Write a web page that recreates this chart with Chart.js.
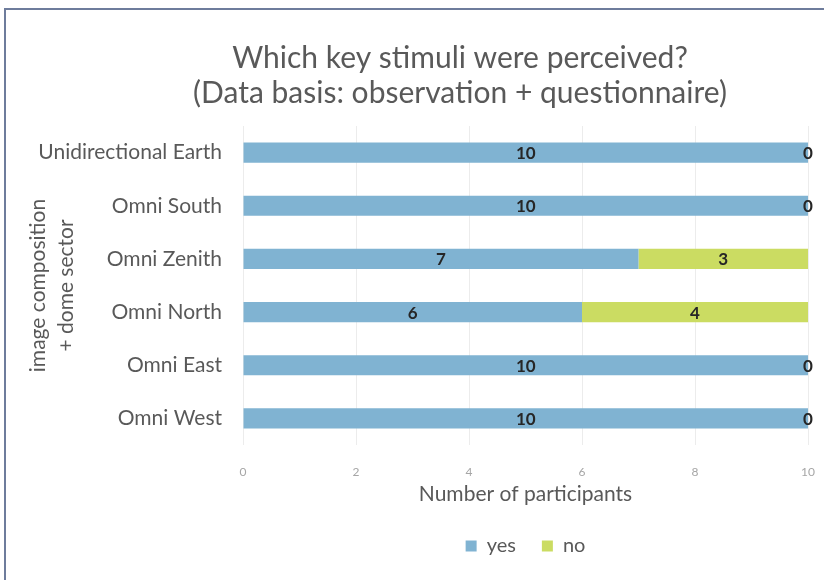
<!DOCTYPE html>
<html>
<head>
<meta charset="utf-8">
<script src="https://cdn.jsdelivr.net/npm/chart.js@4.4.1/dist/chart.umd.min.js"></script>
<style>
  html, body { margin: 0; padding: 0; background: #ffffff; overflow: hidden; }
  #wrap { position: relative; width: 824px; height: 580px; }
  #frame {
    position: absolute; left: 4px; top: 8px; right: -10px; bottom: -10px;
    border-left: 2px solid #6e7c9c; border-top: 2px solid #6e7c9c;
    pointer-events: none;
  }
</style>
</head>
<body>
<div id="wrap">
  <canvas id="chart" width="824" height="580"></canvas>
  <div id="frame"></div>
</div>
<script>
// Sectors shown in the dome, top to bottom
const categories = [
  'Unidirectional Earth',
  'Omni South',
  'Omni Zenith',
  'Omni North',
  'Omni East',
  'Omni West'
];
// Participants who perceived / did not perceive the key stimuli
const yesValues = [10, 10, 7, 6, 10, 10];
const noValues  = [0, 0, 3, 4, 0, 0];
const seriesNames = ['yes', 'no'];
const xTicks = [0, 2, 4, 6, 8, 10];
const titleLines = ['Which key stimuli were perceived?', '(Data basis: observation + questionnaire)'];

const FONT = 'Lato, "Open Sans", sans-serif';
const TEXT = '#595959';

// Value labels centred on each bar segment
const segmentLabels = {
  id: 'segmentLabels',
  afterDatasetsDraw(chart) {
    const ctx = chart.ctx;
    ctx.save();
    ctx.font = 'bold 17px ' + FONT;
    ctx.fillStyle = '#262626';
    ctx.textAlign = 'center';
    ctx.textBaseline = 'middle';
    chart.data.datasets.forEach((ds, i) => {
      chart.getDatasetMeta(i).data.forEach((bar, j) => {
        const cx = (bar.x + bar.base) / 2;
        ctx.fillText(String(ds.data[j]), cx, bar.y + 1);
      });
    });
    ctx.restore();
  }
};

// Two-line chart heading
const heading = {
  id: 'heading',
  afterDraw(chart) {
    const ctx = chart.ctx;
    ctx.save();
    ctx.fillStyle = TEXT;
    ctx.font = '30px ' + FONT;
    ctx.textAlign = 'center';
    ctx.textBaseline = 'middle';
    titleLines.forEach((line, k) => ctx.fillText(line, 460, 58 + k * 35));
    ctx.restore();
  }
};

new Chart(document.getElementById('chart'), {
  type: 'bar',
  data: {
    labels: categories,
    datasets: [
      { label: seriesNames[0], data: yesValues, backgroundColor: '#80b3d2' },
      { label: seriesNames[1], data: noValues, backgroundColor: '#cbdc62' }
    ]
  },
  options: {
    indexAxis: 'y',
    responsive: false,
    animation: false,
    layout: { padding: { left: 11, right: 16, top: 126, bottom: 14 } },
    datasets: { bar: { categoryPercentage: 1, barPercentage: 0.38 } },
    scales: {
      x: {
        stacked: true,
        min: 0,
        max: 10,
        afterBuildTicks(scale) { scale.ticks = xTicks.map(v => ({ value: v })); },
        afterFit(scale) { scale.height = 65; },
        border: { display: false },
        grid: { color: '#ececec', drawTicks: true, tickLength: 18, tickColor: 'rgba(0,0,0,0)' },
        ticks: { padding: 2, color: '#a6a6a6', font: { family: FONT, size: 12 } },
        title: {
          display: true,
          text: 'Number of participants',
          color: TEXT,
          font: { family: FONT, size: 21, lineHeight: 1.2 },
          padding: { top: 0, bottom: 3 }
        }
      },
      y: {
        stacked: true,
        afterFit(scale) { scale.width = 243 - 11; },
        border: { display: false },
        grid: { display: false, drawTicks: false },
        ticks: { padding: 21, color: TEXT, font: { family: FONT, size: 21 } },
        title: {
          display: true,
          text: ['image composition', '+ dome sector'],
          color: TEXT,
          font: { family: FONT, size: 21, lineHeight: 1.33 },
          padding: { top: 13, bottom: 0 }
        }
      }
    },
    plugins: {
      legend: {
        position: 'bottom',
        fullSize: false,
        labels: {
          color: TEXT,
          boxWidth: 11,
          boxHeight: 11,
          padding: 26,
          font: { family: FONT, size: 20 }
        }
      },
      tooltip: { enabled: false },
      title: { display: false }
    }
  },
  plugins: [segmentLabels, heading]
});
</script>
</body>
</html>
